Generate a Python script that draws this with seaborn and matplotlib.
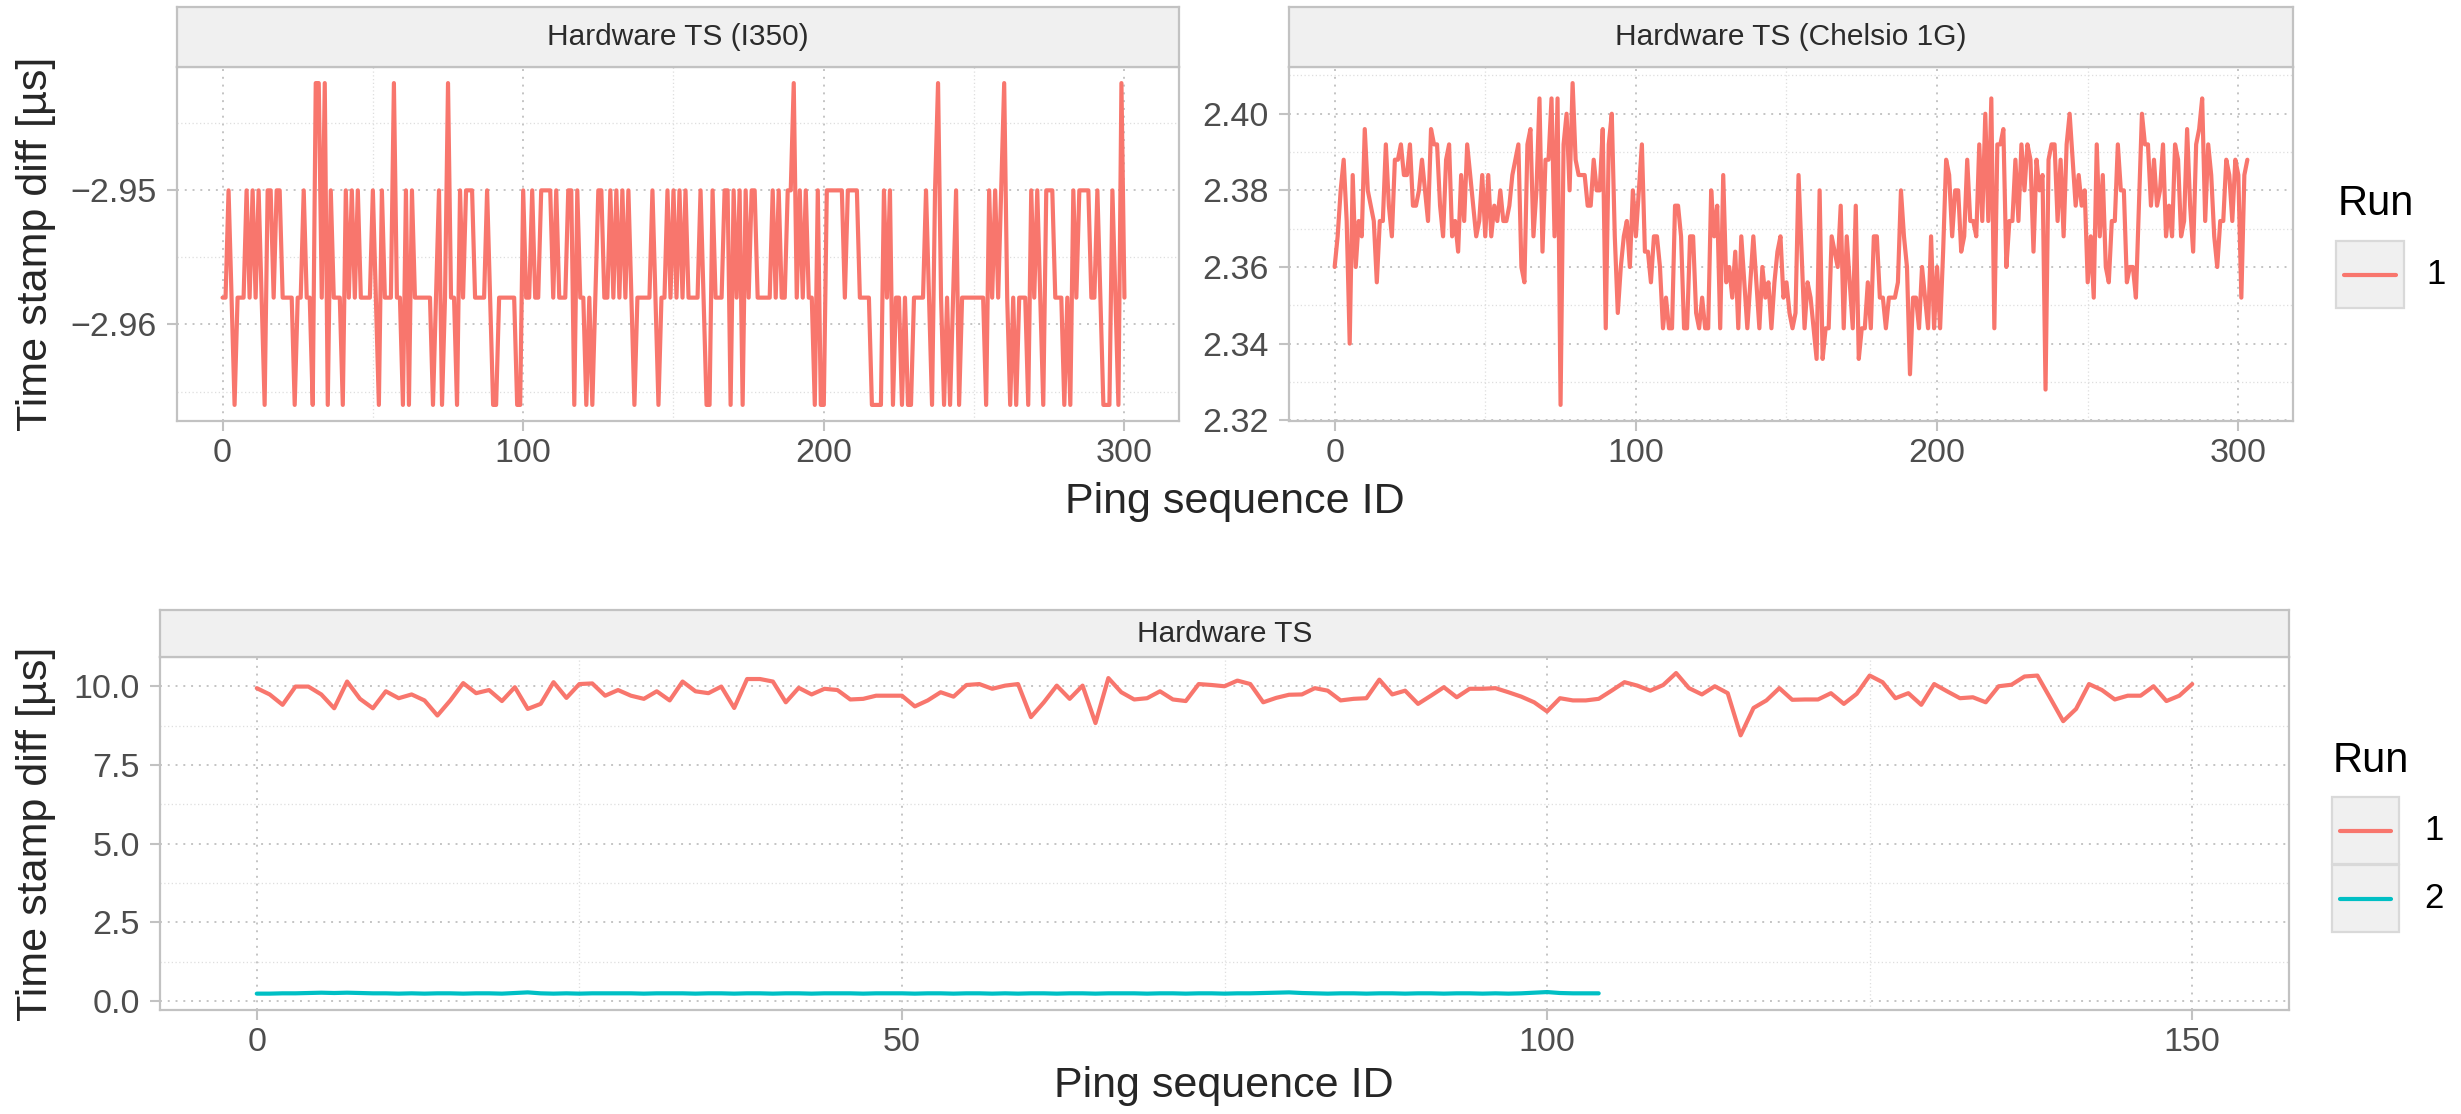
import matplotlib
matplotlib.use("Agg")
import matplotlib.pyplot as plt
import matplotlib.ticker as mticker
from matplotlib.patches import Rectangle
from matplotlib.lines import Line2D
import pandas as pd
import seaborn as sns

# ---- data ----
# Hardware TS (I350), values in ns
i350_ns = [
    -2958, -2958, -2950, -2958, -2966, -2958, -2958, -2958, -2950, -2958,
    -2950, -2958, -2950, -2958, -2966, -2950, -2950, -2958, -2950, -2950,
    -2958, -2958, -2958, -2958, -2966, -2958, -2958, -2950, -2958, -2958,
    -2966, -2942, -2942, -2958, -2942, -2966, -2950, -2958, -2958, -2958,
    -2966, -2950, -2958, -2950, -2958, -2950, -2958, -2958, -2958, -2958,
    -2950, -2958, -2966, -2950, -2958, -2958, -2958, -2942, -2958, -2958,
    -2966, -2950, -2966, -2950, -2958, -2958, -2958, -2958, -2958, -2958,
    -2966, -2958, -2950, -2966, -2958, -2942, -2958, -2958, -2966, -2950,
    -2958, -2950, -2950, -2950, -2958, -2958, -2958, -2958, -2950, -2958,
    -2966, -2966, -2958, -2958, -2958, -2958, -2958, -2958, -2966, -2966,
    -2950, -2958, -2958, -2950, -2958, -2958, -2950, -2950, -2950, -2950,
    -2958, -2950, -2958, -2958, -2958, -2950, -2950, -2966, -2950, -2958,
    -2958, -2966, -2958, -2966, -2958, -2950, -2950, -2958, -2958, -2950,
    -2958, -2950, -2958, -2950, -2958, -2950, -2958, -2966, -2958, -2958,
    -2958, -2958, -2958, -2950, -2958, -2966, -2958, -2958, -2950, -2958,
    -2950, -2958, -2950, -2958, -2950, -2958, -2958, -2958, -2958, -2950,
    -2958, -2966, -2966, -2950, -2958, -2958, -2958, -2950, -2950, -2966,
    -2950, -2958, -2950, -2966, -2950, -2958, -2950, -2950, -2958, -2958,
    -2958, -2958, -2958, -2950, -2958, -2950, -2958, -2958, -2950, -2950,
    -2942, -2958, -2950, -2958, -2950, -2958, -2958, -2966, -2950, -2966,
    -2966, -2950, -2950, -2950, -2950, -2950, -2950, -2958, -2950, -2950,
    -2950, -2950, -2958, -2958, -2958, -2958, -2966, -2966, -2966, -2966,
    -2950, -2958, -2950, -2966, -2958, -2958, -2966, -2958, -2966, -2966,
    -2958, -2958, -2958, -2958, -2950, -2958, -2966, -2950, -2942, -2958,
    -2966, -2958, -2966, -2958, -2950, -2966, -2958, -2958, -2958, -2958,
    -2958, -2958, -2958, -2958, -2966, -2950, -2958, -2950, -2958, -2950,
    -2942, -2958, -2966, -2958, -2966, -2958, -2958, -2958, -2966, -2950,
    -2958, -2950, -2958, -2966, -2950, -2950, -2950, -2958, -2958, -2958,
    -2966, -2958, -2966, -2950, -2958, -2950, -2950, -2950, -2950, -2958,
    -2958, -2950, -2958, -2966, -2966, -2966, -2950, -2958, -2966, -2942,
    -2958,
]

# Hardware TS (Chelsio 1G), values in us
chelsio_us = [
    2.360, 2.368, 2.380, 2.388, 2.372, 2.340, 2.384, 2.360, 2.372, 2.368,
    2.396, 2.380, 2.376, 2.372, 2.356, 2.372, 2.372, 2.392, 2.376, 2.368,
    2.388, 2.388, 2.392, 2.384, 2.384, 2.392, 2.376, 2.376, 2.380, 2.388,
    2.380, 2.372, 2.396, 2.392, 2.392, 2.376, 2.368, 2.388, 2.392, 2.368,
    2.372, 2.364, 2.384, 2.372, 2.392, 2.384, 2.376, 2.368, 2.372, 2.384,
    2.368, 2.384, 2.368, 2.376, 2.372, 2.380, 2.372, 2.372, 2.376, 2.384,
    2.388, 2.392, 2.360, 2.356, 2.392, 2.396, 2.368, 2.380, 2.404, 2.364,
    2.388, 2.388, 2.404, 2.368, 2.404, 2.324, 2.392, 2.400, 2.380, 2.408,
    2.388, 2.384, 2.384, 2.384, 2.376, 2.376, 2.388, 2.380, 2.380, 2.396,
    2.344, 2.392, 2.400, 2.368, 2.348, 2.360, 2.368, 2.372, 2.360, 2.380,
    2.368, 2.380, 2.392, 2.364, 2.364, 2.356, 2.368, 2.368, 2.360, 2.344,
    2.352, 2.344, 2.344, 2.376, 2.376, 2.368, 2.344, 2.344, 2.368, 2.368,
    2.348, 2.344, 2.352, 2.344, 2.344, 2.380, 2.368, 2.376, 2.344, 2.384,
    2.356, 2.360, 2.352, 2.364, 2.344, 2.368, 2.356, 2.344, 2.356, 2.368,
    2.356, 2.344, 2.360, 2.352, 2.356, 2.344, 2.356, 2.364, 2.368, 2.352,
    2.356, 2.348, 2.344, 2.348, 2.384, 2.364, 2.344, 2.356, 2.352, 2.344,
    2.336, 2.380, 2.336, 2.344, 2.344, 2.368, 2.364, 2.360, 2.376, 2.344,
    2.368, 2.356, 2.344, 2.376, 2.336, 2.344, 2.344, 2.356, 2.344, 2.368,
    2.368, 2.352, 2.352, 2.344, 2.352, 2.352, 2.352, 2.356, 2.380, 2.368,
    2.360, 2.332, 2.352, 2.352, 2.344, 2.360, 2.352, 2.344, 2.368, 2.344,
    2.360, 2.344, 2.364, 2.388, 2.384, 2.368, 2.380, 2.380, 2.364, 2.368,
    2.388, 2.372, 2.372, 2.368, 2.392, 2.372, 2.400, 2.372, 2.404, 2.344,
    2.392, 2.392, 2.396, 2.360, 2.372, 2.372, 2.388, 2.372, 2.392, 2.380,
    2.392, 2.388, 2.364, 2.388, 2.380, 2.384, 2.328, 2.388, 2.392, 2.392,
    2.372, 2.388, 2.368, 2.392, 2.400, 2.388, 2.376, 2.384, 2.376, 2.380,
    2.356, 2.368, 2.352, 2.392, 2.368, 2.384, 2.360, 2.356, 2.372, 2.372,
    2.392, 2.380, 2.380, 2.356, 2.360, 2.360, 2.352, 2.376, 2.400, 2.392,
    2.392, 2.376, 2.388, 2.376, 2.380, 2.392, 2.368, 2.376, 2.368, 2.392,
    2.388, 2.368, 2.372, 2.396, 2.376, 2.364, 2.392, 2.396, 2.404, 2.372,
    2.392, 2.384, 2.368, 2.360, 2.372, 2.372, 2.388, 2.384, 2.372, 2.388,
    2.384, 2.352, 2.384, 2.388,
]

# Hardware TS, run 1 and run 2, values in us
hw_run1 = [
    9.94, 9.74, 9.41, 9.99, 9.99, 9.74, 9.30, 10.15, 9.60, 9.30,
    9.84, 9.62, 9.74, 9.55, 9.07, 9.55, 10.10, 9.78, 9.88, 9.53,
    9.97, 9.28, 9.44, 10.13, 9.63, 10.07, 10.09, 9.70, 9.88, 9.70,
    9.60, 9.84, 9.55, 10.15, 9.84, 9.78, 9.99, 9.31, 10.23, 10.23,
    10.15, 9.49, 9.95, 9.74, 9.92, 9.88, 9.58, 9.60, 9.70, 9.70,
    9.70, 9.36, 9.55, 9.81, 9.67, 10.04, 10.07, 9.92, 10.02, 10.07,
    9.02, 9.49, 10.02, 9.60, 10.02, 8.83, 10.26, 9.81, 9.58, 9.62,
    9.84, 9.58, 9.53, 10.07, 10.04, 10.00, 10.18, 10.07, 9.49, 9.63,
    9.73, 9.74, 9.94, 9.86, 9.55, 9.60, 9.62, 10.21, 9.74, 9.86,
    9.44, 9.70, 9.97, 9.65, 9.92, 9.92, 9.94, 9.81, 9.67, 9.49,
    9.20, 9.62, 9.55, 9.55, 9.60, 9.86, 10.13, 10.02, 9.86, 10.04,
    10.42, 9.94, 9.74, 10.00, 9.78, 8.44, 9.31, 9.55, 9.94, 9.57,
    9.58, 9.58, 9.78, 9.44, 9.76, 10.34, 10.13, 9.62, 9.78, 9.41,
    10.07, 9.84, 9.62, 9.65, 9.49, 10.00, 10.05, 10.31, 10.34, 9.62,
    8.89, 9.28, 10.07, 9.88, 9.58, 9.70, 9.70, 10.00, 9.53, 9.70,
    10.07,
]
hw_run2 = [
    0.23, 0.23, 0.24, 0.24, 0.25, 0.26, 0.25, 0.26, 0.25, 0.24,
    0.24, 0.23, 0.24, 0.23, 0.24, 0.24, 0.23, 0.24, 0.24, 0.23,
    0.25, 0.27, 0.24, 0.23, 0.24, 0.23, 0.24, 0.24, 0.24, 0.24,
    0.23, 0.24, 0.24, 0.24, 0.23, 0.24, 0.24, 0.23, 0.24, 0.24,
    0.23, 0.24, 0.24, 0.23, 0.24, 0.24, 0.24, 0.23, 0.24, 0.24,
    0.24, 0.23, 0.24, 0.24, 0.23, 0.24, 0.24, 0.23, 0.24, 0.23,
    0.24, 0.24, 0.23, 0.24, 0.24, 0.23, 0.24, 0.24, 0.24, 0.23,
    0.24, 0.24, 0.23, 0.24, 0.24, 0.23, 0.24, 0.24, 0.25, 0.26,
    0.27, 0.25, 0.24, 0.23, 0.24, 0.24, 0.23, 0.24, 0.24, 0.23,
    0.24, 0.24, 0.23, 0.24, 0.24, 0.23, 0.24, 0.23, 0.24, 0.26,
    0.28, 0.25, 0.24, 0.24, 0.24,
]

run_labels = ["1", "2"]
run_colors = ["#F8766D", "#00BFC4"]
panel_titles = ["Hardware TS (I350)", "Hardware TS (Chelsio 1G)", "Hardware TS"]
y_title = "Time stamp diff [µs]"
x_title = "Ping sequence ID"

top_left = pd.DataFrame({"seq": range(len(i350_ns)),
                         "diff": [v / 1000 for v in i350_ns], "run": "1"})
top_right = pd.DataFrame({"seq": range(len(chelsio_us)),
                          "diff": chelsio_us, "run": "1"})
bottom = pd.concat([
    pd.DataFrame({"seq": range(len(hw_run1)), "diff": hw_run1, "run": "1"}),
    pd.DataFrame({"seq": range(len(hw_run2)), "diff": hw_run2, "run": "2"}),
])

# ---- figure / theme ----
W, H = 2461, 1114
sns.set_theme(style="white")
plt.rcParams["font.family"] = ["Liberation Sans", "DejaVu Sans"]
plt.rcParams["axes.unicode_minus"] = True

fig = plt.figure(figsize=(W / 100, H / 100), dpi=100)
fig.patch.set_facecolor("white")

BORDER = "#C2C2C2"
TICKTXT = "#4D4D4D"
palette = dict(zip(run_labels, run_colors))


def rect(x0, y0, x1, y1):
    return [x0 / W, 1 - y1 / H, (x1 - x0) / W, (y1 - y0) / H]


def fx(x):
    return x / W


def fy(y):
    return 1 - y / H


def minus_fmt(fmt):
    return mticker.FuncFormatter(lambda v, p: (fmt % v).replace("-", "\u2212"))


def style_panel(ax, xlim, ylim, xstep, ystep, yfmt):
    ax.set_xlim(*xlim)
    ax.set_ylim(*ylim)
    ax.xaxis.set_major_locator(mticker.MultipleLocator(xstep))
    ax.xaxis.set_minor_locator(mticker.MultipleLocator(xstep / 2))
    ax.yaxis.set_major_locator(mticker.MultipleLocator(ystep))
    ax.yaxis.set_minor_locator(mticker.MultipleLocator(ystep / 2))
    ax.xaxis.set_major_formatter(mticker.FormatStrFormatter("%d"))
    ax.yaxis.set_major_formatter(minus_fmt(yfmt))
    ax.grid(which="major", color="#C4C4C4", linestyle=(0, (1, 3)), linewidth=1.4)
    ax.grid(which="minor", color="#DEDEDE", linestyle=(0, (1, 2)), linewidth=0.9)
    ax.set_axisbelow(True)
    ax.tick_params(which="minor", length=0)
    ax.tick_params(which="major", length=7.5, width=1.5, color=BORDER,
                   labelsize=24.5, labelcolor=TICKTXT, pad=5,
                   bottom=True, left=True)
    ax.tick_params(axis="y", pad=7)
    for s in ax.spines.values():
        s.set_color(BORDER)
        s.set_linewidth(1.6)
    ax.set_xlabel("")
    ax.set_ylabel("")
    ax.set_facecolor("white")


def strip(x0, y0, x1, y1, label):
    sax = fig.add_axes(rect(x0, y0, x1, y1))
    sax.set_facecolor("#F0F0F0")
    sax.set_xticks([])
    sax.set_yticks([])
    for s in sax.spines.values():
        s.set_color(BORDER)
        s.set_linewidth(1.6)
    sax.text(0.5, 0.5, label, ha="center", va="center", fontsize=21.5,
             color="#2B2B2B", transform=sax.transAxes)


def legend(x_title_left, title_base, key_x0, key_x1, key_tops, key_h, label_x):
    fig.text(fx(x_title_left), fy(title_base), "Run", fontsize=30, color="black",
             ha="left", va="baseline")
    for i, top in enumerate(key_tops):
        fig.patches.append(Rectangle((fx(key_x0), fy(top + key_h)),
                                     fx(key_x1) - fx(key_x0), key_h / H,
                                     transform=fig.transFigure, facecolor="#F0F0F0",
                                     edgecolor="#D9D9D9", linewidth=1.6))
        yc = top + key_h / 2
        fig.lines.append(Line2D([fx(key_x0 + 8), fx(key_x1 - 8)], [fy(yc), fy(yc)],
                                transform=fig.transFigure, color=run_colors[i],
                                linewidth=3.0))
        fig.text(fx(label_x), fy(yc), run_labels[i], fontsize=25, color="black",
                 ha="left", va="center")


LW = 3.0

# top-left panel
ax1 = fig.add_axes(rect(177, 67, 1179, 421))
sns.lineplot(data=top_left, x="seq", y="diff", hue="run", palette=palette,
             linewidth=LW, legend=False, ax=ax1)
style_panel(ax1, (-15.15, 318.15), (-2.9672, -2.9408), 100, 0.01, "%.2f")
strip(177, 7, 1179, 67, panel_titles[0])

# top-right panel
ax2 = fig.add_axes(rect(1289, 67, 2293, 421))
sns.lineplot(data=top_right, x="seq", y="diff", hue="run", palette=palette,
             linewidth=LW, legend=False, ax=ax2)
style_panel(ax2, (-15.15, 318.15), (2.3198, 2.4122), 100, 0.02, "%.2f")
strip(1289, 7, 2293, 67, panel_titles[1])

# bottom panel
ax3 = fig.add_axes(rect(160, 657, 2289, 1010))
sns.lineplot(data=bottom, x="seq", y="diff", hue="run", palette=palette,
             linewidth=LW, legend=False, ax=ax3)
style_panel(ax3, (-7.5, 157.5), (-0.29, 10.93), 50, 2.5, "%.1f")
strip(160, 610, 2289, 657, panel_titles[2])

# axis titles
fig.text(fx(36), fy(244), y_title, rotation=90, fontsize=31, ha="center", va="center")
fig.text(fx(36), fy(834), y_title, rotation=90, fontsize=31, ha="center", va="center")
fig.text(fx(1235), fy(502), x_title, fontsize=31, ha="center", va="center")
fig.text(fx(1224), fy(1086), x_title, fontsize=31, ha="center", va="center")

# legends
legend(2338, 215, 2336, 2404, [241], 67, 2426)
legend(2333, 772, 2332, 2399, [797, 865], 67, 2424)

fig.savefig("out.png", dpi=100, facecolor="white")
